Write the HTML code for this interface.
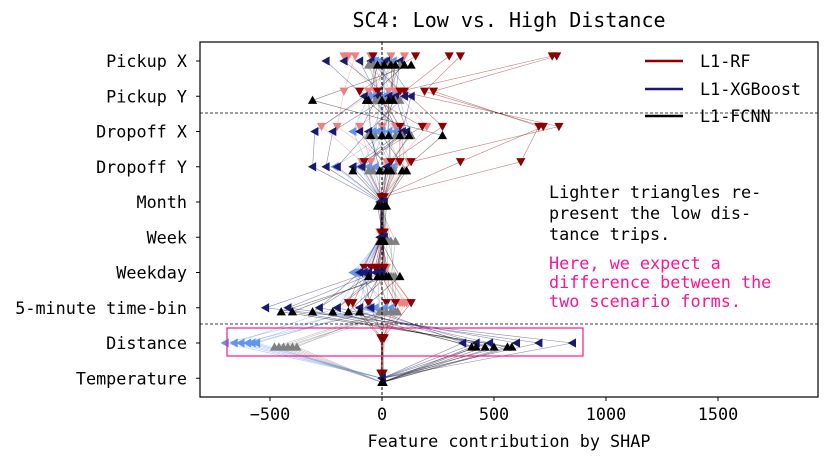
<!DOCTYPE html>
<html><head><meta charset="utf-8"><style>
body{margin:0;background:#fff;}
svg text{font-family:"DejaVu Sans Mono","Liberation Mono",monospace;}
</style></head><body>
<svg id="chart" width="830" height="465" viewBox="0 0 830 465" xmlns="http://www.w3.org/2000/svg">
<g id="lines"></g><g id="marks"></g><g id="axes"></g>
</svg>
<script>
const features = ["Pickup X","Pickup Y","Dropoff X","Dropoff Y","Month","Week","Weekday","5-minute time-bin","Distance","Temperature"];
const xTicks = [-500,0,500,1000,1500];
const rfHigh = [
[780,230,700,620,0,5,-20,60,5,0],[760,80,790,130,5,0,-50,-130,0,-5],[350,190,720,350,-5,10,0,-60,10,5],
[300,100,270,40,0,-5,-80,-150,-5,0],[-40,-20,80,80,10,0,-30,20,0,0],[150,-100,180,-80,0,5,10,130,5,0]];
const rfLow = [
[-170,-30,-270,-90,0,0,-10,80,0,0],[-120,-170,-200,20,5,10,0,110,0,0],[-50,60,200,70,-5,-5,20,130,5,-5],
[100,30,0,80,0,0,-20,60,-5,5],[-150,100,-100,-50,10,-10,10,100,0,0],[40,-60,60,120,0,5,-30,90,0,0]];
const xgbHigh = [
[-250,-80,-300,-310,-10,0,-60,-520,850,0],[-170,30,-220,-250,-5,10,-30,-420,700,0],[-50,100,-60,-200,0,-10,-100,-280,600,0],
[20,130,90,-130,10,0,-20,-200,480,0],[80,60,110,-90,0,5,0,-100,420,0],[-100,-20,-100,20,5,0,-80,-50,360,0]];
const xgbLow = [
[-30,-60,-130,-60,0,0,-110,-60,-700,0],[10,10,-40,-30,0,0,-90,-200,-660,0],[50,-20,30,-210,0,0,-120,40,-630,0],
[-10,40,0,-100,0,0,-70,-100,-600,0],[20,-40,60,20,0,0,-100,10,-580,0],[-40,20,-20,50,0,0,-130,-30,-560,0]];
const fcnnHigh = [
[130,-310,270,90,10,0,30,-450,580,5],[100,-70,120,20,-20,10,0,-400,560,0],[60,30,30,40,0,-10,-60,-310,500,0],
[10,0,80,-130,20,5,-20,-220,420,5],[-20,-60,-50,-10,-10,0,20,-150,400,0],[40,50,0,110,0,-5,80,-100,460,0]];
const fcnnLow = [
[-40,-30,60,-40,0,0,0,0,-480,0],[0,80,130,0,10,20,30,20,-460,0],[30,-10,-30,50,0,40,50,40,-420,0],
[80,20,90,100,-10,60,40,70,-400,0],[-60,0,0,-60,5,0,-20,-10,-380,0],[50,60,-60,20,0,30,60,60,-440,0]];

const NS="http://www.w3.org/2000/svg";
const L=200,R=818,T=42,B=397;
const FS=16.8;
const x = v => 382 + v*0.224;
const y = i => 61 + i*35.25;
function mk(tag,attrs,parent,text){const e=document.createElementNS(NS,tag);for(const k in attrs)e.setAttribute(k,attrs[k]);if(text!==undefined)e.textContent=text;parent.appendChild(e);return e;}
const gl=document.getElementById('lines'),gm=document.getElementById('marks'),ga=document.getElementById('axes');
function tri(cx,cy,dir){const s=4.6;
 if(dir==='down')return `${cx-s},${cy-s+1} ${cx+s},${cy-s+1} ${cx},${cy+s}`;
 if(dir==='up')return `${cx-s},${cy+s-1} ${cx+s},${cy+s-1} ${cx},${cy-s}`;
 return `${cx+s-1},${cy-s} ${cx+s-1},${cy+s} ${cx-s},${cy}`;}
const models=[
 {name:'rf',low:rfLow,high:rfHigh,lc:'#f08080',hc:'#8b0000',dir:'down',off:-5},
 {name:'xgb',low:xgbLow,high:xgbHigh,lc:'#6495ed',hc:'#191970',dir:'left',off:0},
 {name:'fcnn',low:fcnnLow,high:fcnnHigh,lc:'#808080',hc:'#000000',dir:'up',off:4}];
models.forEach(m=>{
 [['low',m.low,m.lc],['high',m.high,m.hc]].forEach(([kind,trips,col])=>{
  trips.forEach((t,ti)=>{
   const pts=t.map((v,i)=>`${x(v).toFixed(1)},${(y(i)+m.off).toFixed(1)}`).join(' ');
   const pl=mk('polyline',{points:pts,fill:'none',stroke:col,'stroke-width':0.6,'stroke-opacity':0.5},gl);
   
   
   t.forEach((v,i)=>{
    const p=mk('polygon',{points:tri(x(v),y(i)+m.off,m.dir),fill:col},gm);
    
    
   });
  });
 });
});
let e=mk('rect',{x:L,y:T,width:R-L,height:B-T,fill:'none',stroke:'#000','stroke-width':1.2},ga);

e=mk('line',{x1:x(0),x2:x(0),y1:T,y2:B,stroke:'#000','stroke-dasharray':'3,2','stroke-width':1},ga);

[113,324].forEach(yy=>{e=mk('line',{x1:L,x2:R,y1:yy,y2:yy,stroke:'#000','stroke-dasharray':'3,2','stroke-width':0.8},ga);
 });
features.forEach((f,i)=>{
 mk('line',{x1:L-4,x2:L,y1:y(i),y2:y(i),stroke:'#000'},ga);
 e=mk('text',{x:187,y:y(i)+6,'text-anchor':'end','font-size':FS},ga,f);
 
});
xTicks.forEach(v=>{
 mk('line',{x1:x(v),x2:x(v),y1:B,y2:B+4,stroke:'#000'},ga);
 e=mk('text',{x:x(v),y:420,'text-anchor':'middle','font-size':FS},ga,String(v).replace('-','\u2212'));
 
});
e=mk('text',{x:509,y:447,'text-anchor':'middle','font-size':FS},ga,'Feature contribution by SHAP');

e=mk('text',{x:509,y:27,'text-anchor':'middle','font-size':20},ga,'SC4: Low vs. High Distance');

e=mk('rect',{x:227,y:328,width:356,height:28,fill:'none',stroke:'#ff1493','stroke-width':1.2},ga);

[['L1-RF','#8b0000',61],['L1-XGBoost','#191970',89],['L1-FCNN','#000',116]].forEach(([n,c,yy])=>{
 e=mk('line',{x1:645,x2:683,y1:yy,y2:yy,stroke:c,'stroke-width':2.5},ga);
 
 e=mk('text',{x:700,y:yy+6,'font-size':FS},ga,n);
 
});
['Lighter triangles re-','present the low dis-','tance trips.'].forEach((s,i)=>{
 e=mk('text',{x:549,y:198+i*21,'font-size':FS},ga,s);
 });
['Here, we expect a','difference between the','two scenario forms.'].forEach((s,i)=>{
 e=mk('text',{x:549,y:269+i*19,'font-size':FS,fill:'#ff1493'},ga,s);
 });
</script>
</body></html>
